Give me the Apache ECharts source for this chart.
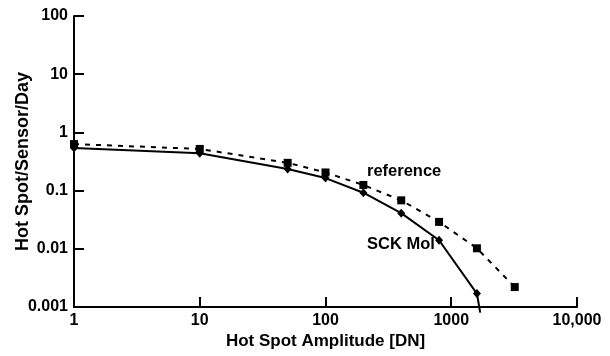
<!DOCTYPE html>
<html>
<head>
<meta charset="utf-8">
<script src="https://cdn.jsdelivr.net/npm/echarts@6/dist/echarts.min.js"></script>
<style>
  html, body { margin: 0; padding: 0; background: #fff; }
  #chart { width: 610px; height: 356px; }
</style>
</head>
<body>
<div id="chart"></div>
<script>
const xLabels = ['1', '10', '100', '1000', '10,000'];
const yLabels = ['0.001', '0.01', '0.1', '1', '10', '100'];

// reference curve (dashed, squares)
const refAmplitude = [1, 10, 50, 100, 200, 400, 800, 1600, 3200];
const refRate = [0.63, 0.52, 0.30, 0.205, 0.125, 0.068, 0.029, 0.0102, 0.0022];

// SCK Mol curve (solid, diamonds); last point only continues the line
const sckAmplitude = [1, 10, 50, 100, 200, 400, 800, 1600, 1700];
const sckRate = [0.54, 0.44, 0.235, 0.164, 0.092, 0.041, 0.014, 0.0017, 0.0008];

const font = '"Liberation Sans", Arial, sans-serif';

const chart = echarts.init(document.getElementById('chart'), null, { renderer: 'canvas' });

const pairs = (xs, ys) => xs.map((x, i) => [x, ys[i]]);

const option = {
  animation: false,
  backgroundColor: '#fff',
  grid: { left: 74, right: 33, top: 16, bottom: 49, outerBoundsMode: 'none' },
  xAxis: {
    type: 'log',
    logBase: 10,
    min: 1,
    max: 10000,
    interval: 1,
    name: 'Hot Spot Amplitude [DN]',
    nameLocation: 'middle',
    nameGap: 26,
    nameMoveOverlap: false,
    nameTextStyle: { fontFamily: font, fontWeight: 'bold', fontSize: 17, color: '#000' },
    axisLine: { lineStyle: { color: '#000', width: 2 } },
    axisTick: { inside: true, length: 10, lineStyle: { color: '#000', width: 2 } },
    axisLabel: {
      margin: 6,
      fontFamily: font, fontWeight: 'bold', fontSize: 16, color: '#000',
      formatter: v => xLabels[Math.round(Math.log10(v))]
    },
    splitLine: { show: false },
    minorTick: { show: false }
  },
  yAxis: {
    type: 'log',
    logBase: 10,
    min: 0.001,
    max: 100,
    interval: 1,
    name: 'Hot Spot/Sensor/Day',
    nameLocation: 'middle',
    nameGap: 42,
    nameMoveOverlap: false,
    nameTextStyle: { fontFamily: font, fontWeight: 'bold', fontSize: 18, color: '#000' },
    axisLine: { show: true, lineStyle: { color: '#000', width: 2 } },
    axisTick: { show: true, inside: true, length: 10, lineStyle: { color: '#000', width: 2 } },
    axisLabel: {
      margin: 6,
      fontFamily: font, fontWeight: 'bold', fontSize: 16, color: '#000',
      formatter: v => yLabels[Math.round(Math.log10(v)) + 3]
    },
    splitLine: { show: false }
  },
  series: [
    {
      name: 'reference',
      type: 'line',
      data: pairs(refAmplitude, refRate),
      symbol: 'rect',
      symbolSize: 8,
      clip: false,
      itemStyle: { color: '#000' },
      lineStyle: { color: '#000', width: 2, type: [5, 6] }
    },
    {
      name: 'SCK Mol',
      type: 'line',
      data: pairs(sckAmplitude, sckRate),
      symbol: (val, params) => params.dataIndex === sckAmplitude.length - 1 ? 'none' : 'diamond',
      symbolSize: [8, 9],
      clip: false,
      itemStyle: { color: '#000' },
      lineStyle: { color: '#000', width: 2 }
    }
  ],
  graphic: [
    {
      type: 'text', left: 367, top: 163,
      style: { text: 'reference', fontFamily: font, fontWeight: 'bold', fontSize: 16.5, fill: '#000' }
    },
    {
      type: 'text', left: 367, top: 236,
      style: { text: 'SCK Mol', fontFamily: font, fontWeight: 'bold', fontSize: 16.5, fill: '#000' }
    }
  ]
};

chart.setOption(option);
</script>
</body>
</html>
